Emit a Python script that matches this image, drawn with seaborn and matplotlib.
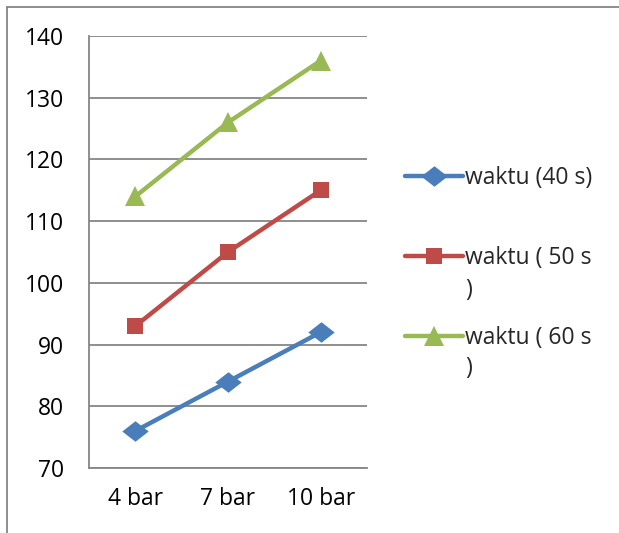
import matplotlib
matplotlib.use("Agg")
import matplotlib.pyplot as plt
import seaborn as sns
import pandas as pd
from matplotlib.lines import Line2D

categories = ["4 bar", "7 bar", "10 bar"]
series_names = ["waktu (40 s)", "waktu ( 50 s", "waktu ( 60 s"]
waktu_40 = [76, 84, 92]
waktu_50 = [93, 105, 115]
waktu_60 = [114, 126, 136]
y_ticks = [70, 80, 90, 100, 110, 120, 130, 140]

sns.set_theme(style="white")
plt.rcParams['font.family'] = ['Open Sans', 'DejaVu Sans']
FS = 16.5

rows = []
for name, vals in zip(series_names, [waktu_40, waktu_50, waktu_60]):
    for i, (c, v) in enumerate(zip(categories, vals)):
        rows.append({"pos": i, "cat": c, "value": v, "series": name})
df = pd.DataFrame(rows)

colors = {series_names[0]: "#4A7EBB", series_names[1]: "#BE4B48", series_names[2]: "#98B954"}
diamond = [(-1, 0), (0, 0.78), (1, 0), (0, -0.78), (-1, 0)]
markers = {series_names[0]: diamond, series_names[1]: "s", series_names[2]: "^"}
msize = {series_names[0]: 19, series_names[1]: 12, series_names[2]: 14.5}

fig = plt.figure(figsize=(6.19, 5.33), dpi=100)
ax = fig.add_axes([89/619, 1-468/533, (367-89)/619, (468-36)/533])

sns.lineplot(data=df, x="pos", y="value", hue="series", style="series",
             markers=markers, dashes=False, palette=colors, linewidth=3.2,
             markersize=11, markeredgewidth=0, sort=False, ax=ax, legend=False)
for line, name in zip(ax.get_lines(), series_names):
    line.set_markersize(msize[name])

ax.set_xlim(-0.5, 2.5)
ax.set_ylim(70, 140)
ax.set_yticks(y_ticks)
ax.set_xticks([0, 1, 2])
ax.set_xticklabels(categories)
ax.set_xlabel("")
ax.set_ylabel("")
ax.set_xticks([-0.5, 0.5, 1.5, 2.5], minor=True)
ax.tick_params(axis="x", which="major", length=0, pad=14, labelsize=FS, colors="black")
ax.tick_params(axis="x", which="minor", length=6, width=1.2, color="#868686", direction="out")
ax.tick_params(axis="y", length=6, width=1.2, color="#868686", direction="out", pad=12, labelsize=FS, labelcolor="black")
ax.grid(axis="y", color="#868686", linewidth=1.3)
ax.set_axisbelow(True)
for s in ["top", "right"]:
    ax.spines[s].set_visible(False)
for s in ["left", "bottom"]:
    ax.spines[s].set_color("#868686")
    ax.spines[s].set_linewidth(1.3)

handles = [Line2D([0], [0], color=colors[n], marker=markers[n], linewidth=3.2,
                  markersize=msize[n], markeredgewidth=0) for n in series_names]
leg = fig.legend(handles, series_names, loc="upper left",
                 bbox_to_anchor=(405/619, 1-166/533), frameon=False,
                 fontsize=FS, handlelength=2.55, handletextpad=0.05, labelspacing=2.45,
                 borderaxespad=0, borderpad=0)

# wrapped closing parentheses of legend labels
fig.text(465/619, 1-290/533, ")", fontsize=FS, va="center", ha="left")
fig.text(465/619, 1-368/533, ")", fontsize=FS, va="center", ha="left")

# outer chart frame (top and left edges)
fig.add_artist(Line2D([7/619, 1], [1-6.5/533, 1-6.5/533], color="#868686", linewidth=1.3, transform=fig.transFigure))
fig.add_artist(Line2D([7/619, 7/619], [0, 1-6.5/533], color="#868686", linewidth=1.3, transform=fig.transFigure))

fig.savefig("out.png", dpi=100)
